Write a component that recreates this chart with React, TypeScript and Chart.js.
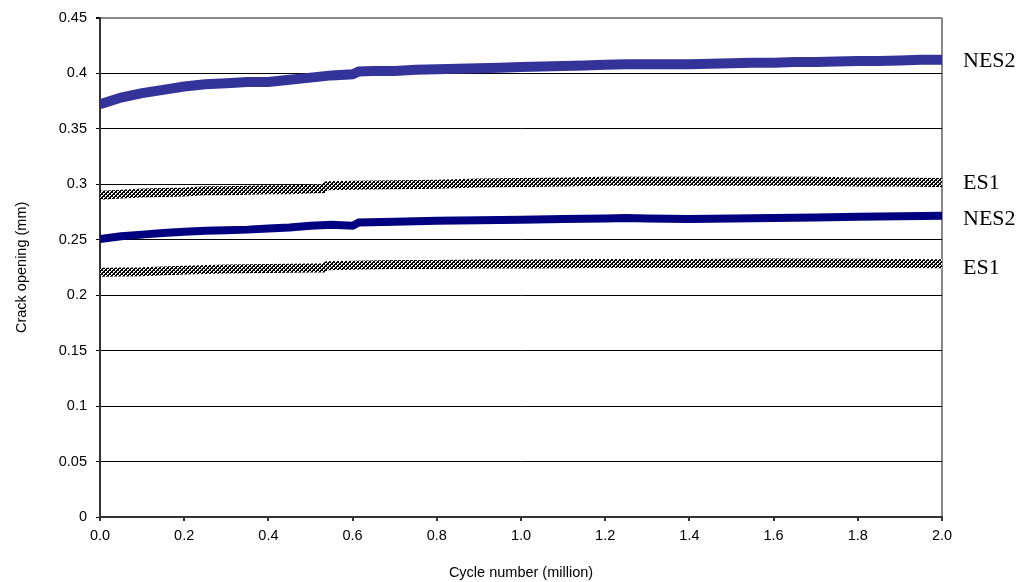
import React, { useEffect, useRef } from "react";
import { Chart, registerables } from "chart.js";
Chart.register(...registerables);

// ---- data ----
const seriesLabels = ["NES2", "ES1", "NES2", "ES1"];

const nes2UpperCycles = [0, 0.05, 0.1, 0.15, 0.2, 0.25, 0.3, 0.35, 0.4, 0.45, 0.5, 0.55, 0.6, 0.615, 0.65, 0.7, 0.75, 0.8, 0.85, 0.9, 0.95, 1.0, 1.05, 1.1, 1.15, 1.2, 1.25, 1.3, 1.35, 1.4, 1.45, 1.5, 1.55, 1.6, 1.65, 1.7, 1.75, 1.8, 1.85, 1.9, 1.95, 2.0];
const nes2UpperOpening = [0.372, 0.378, 0.382, 0.385, 0.388, 0.390, 0.391, 0.392, 0.392, 0.394, 0.396, 0.398, 0.399, 0.4015, 0.402, 0.402, 0.403, 0.4035, 0.404, 0.4045, 0.405, 0.4055, 0.406, 0.4065, 0.407, 0.4075, 0.408, 0.408, 0.408, 0.408, 0.4085, 0.409, 0.4095, 0.4095, 0.410, 0.410, 0.4105, 0.411, 0.411, 0.4115, 0.412, 0.412];

const es1UpperCycles = [0, 0.05, 0.1, 0.15, 0.2, 0.25, 0.3, 0.35, 0.4, 0.45, 0.5, 0.53, 0.54, 0.6, 0.7, 0.8, 0.9, 1.0, 1.1, 1.2, 1.3, 1.4, 1.5, 1.6, 1.7, 1.8, 1.9, 2.0];
const es1UpperOpening = [0.290, 0.291, 0.292, 0.2925, 0.293, 0.294, 0.294, 0.2945, 0.295, 0.295, 0.2955, 0.296, 0.2985, 0.299, 0.2995, 0.300, 0.301, 0.3015, 0.302, 0.3025, 0.3025, 0.3025, 0.3025, 0.3025, 0.3025, 0.302, 0.302, 0.3015];

const nes2LowerCycles = [0, 0.05, 0.1, 0.15, 0.2, 0.25, 0.3, 0.35, 0.4, 0.45, 0.5, 0.55, 0.6, 0.615, 0.7, 0.8, 0.9, 1.0, 1.1, 1.2, 1.25, 1.3, 1.4, 1.5, 1.6, 1.7, 1.8, 1.9, 2.0];
const nes2LowerOpening = [0.2505, 0.253, 0.2545, 0.256, 0.257, 0.258, 0.2585, 0.259, 0.260, 0.261, 0.2625, 0.2635, 0.2625, 0.2655, 0.266, 0.267, 0.2675, 0.268, 0.2685, 0.269, 0.2695, 0.269, 0.2685, 0.269, 0.2695, 0.270, 0.2705, 0.271, 0.2715];

const es1LowerCycles = [0, 0.1, 0.2, 0.3, 0.4, 0.5, 0.53, 0.54, 0.6, 0.7, 0.8, 0.9, 1.0, 1.2, 1.4, 1.6, 1.8, 2.0];
const es1LowerOpening = [0.2205, 0.221, 0.2225, 0.2235, 0.224, 0.2245, 0.2245, 0.2265, 0.227, 0.2275, 0.2275, 0.228, 0.228, 0.2285, 0.2285, 0.229, 0.2288, 0.2282];

const xTickStep = 0.2;
const yTickStep = 0.05;

const xTitle = "Cycle number (million)";
const yTitle = "Crack opening (mm)";

// ---- styles ----
const labelOffsets = [1, 1, 3, 4.5];
const sansFont = "'Liberation Sans', Arial, sans-serif";
const serifFont = "'Liberation Serif', 'Times New Roman', serif";

function zip(xs: number[], ys: number[]) {
  return xs.map((x, i) => ({ x, y: ys[i] }));
}

function makeCrossPattern(ctx: CanvasRenderingContext2D) {
  const tile = document.createElement("canvas");
  tile.width = 4;
  tile.height = 4;
  const t = tile.getContext("2d")!;
  t.fillStyle = "#ffffff";
  t.fillRect(0, 0, 4, 4);
  t.fillStyle = "#000000";
  const px = [[0, 0], [1, 1], [2, 2], [3, 3], [3, 0], [2, 1], [1, 2], [0, 3], [2, 0], [0, 2]];
  px.forEach(([a, b]) => t.fillRect(a, b, 1, 1));
  return ctx.createPattern(tile, "repeat")!;
}

const textPlugin = {
  id: "customText",
  afterDraw(chart: any) {
    const { ctx, chartArea } = chart;
    const yScale = chart.scales.y;
    ctx.save();
    ctx.fillStyle = "#000";
    ctx.font = `14.5px ${sansFont}`;
    ctx.textAlign = "center";
    ctx.textBaseline = "middle";
    ctx.fillText(xTitle, (chartArea.left + chartArea.right) / 2, 573);
    ctx.save();
    ctx.translate(22, (chartArea.top + chartArea.bottom) / 2);
    ctx.rotate(-Math.PI / 2);
    ctx.fillText(yTitle, 0, 0);
    ctx.restore();
    ctx.font = `22px ${serifFont}`;
    ctx.textAlign = "left";
    chart.data.datasets.forEach((ds: any, i: number) => {
      const last = ds.data[ds.data.length - 1];
      const y = yScale.getPixelForValue(last.y) + labelOffsets[i];
      ctx.fillText(seriesLabels[i], chartArea.right + 21, y);
    });
    ctx.restore();
  },
};

export default function App() {
  const canvasRef = useRef<HTMLCanvasElement | null>(null);

  useEffect(() => {
    const canvas = canvasRef.current!;
    const ctx = canvas.getContext("2d")!;
    const crossPattern = makeCrossPattern(ctx);

    const chart = new Chart(ctx, {
      type: "scatter",
      data: {
        datasets: [
          {
            label: seriesLabels[0],
            data: zip(nes2UpperCycles, nes2UpperOpening),
            showLine: true,
            borderColor: "#333399",
            borderWidth: 10,
            pointRadius: 0,
            tension: 0,
          },
          {
            label: seriesLabels[1],
            data: zip(es1UpperCycles, es1UpperOpening),
            showLine: true,
            borderColor: crossPattern as any,
            borderWidth: 9,
            pointRadius: 0,
            tension: 0,
          },
          {
            label: seriesLabels[2],
            data: zip(nes2LowerCycles, nes2LowerOpening),
            showLine: true,
            borderColor: "#000080",
            borderWidth: 8,
            pointRadius: 0,
            tension: 0,
          },
          {
            label: seriesLabels[3],
            data: zip(es1LowerCycles, es1LowerOpening),
            showLine: true,
            borderColor: crossPattern as any,
            borderWidth: 9,
            pointRadius: 0,
            tension: 0,
          },
        ],
      },
      options: {
        responsive: false,
        animation: false,
        layout: { padding: { left: 0, top: 16, right: 91, bottom: 0 } },
        plugins: {
          legend: { display: false },
          tooltip: { enabled: false },
        },
        scales: {
          x: {
            type: "linear",
            min: 0,
            max: 2,
            afterFit: (scale: any) => {
              scale.height = 65;
            },
            ticks: {
              stepSize: xTickStep,
              color: "#000",
              font: { family: sansFont, size: 14.5 },
              padding: 6,
              maxRotation: 0,
              callback: (v: any) => Number(v).toFixed(1),
            },
            grid: {
              color: (c: any) => (c.tick && Math.abs(c.tick.value - 2) < 1e-9 ? "#888888" : "rgba(0,0,0,0)"),
              lineWidth: 2,
              tickColor: "#333333",
              tickLength: 4,
              drawTicks: true,
            },
            border: { display: true, color: "#333333", width: 2 },
          },
          y: {
            type: "linear",
            min: 0,
            max: 0.45,
            afterFit: (scale: any) => {
              scale.width = 100;
            },
            ticks: {
              stepSize: yTickStep,
              color: "#000",
              font: { family: sansFont, size: 14.5 },
              padding: 9,
              callback: (v: any) => (Math.abs(v) < 1e-9 ? "0" : String(+Number(v).toFixed(2))),
            },
            grid: {
              color: (c: any) => (c.tick && Math.abs(c.tick.value - 0.45) < 1e-9 ? "#888888" : "#000000"),
              lineWidth: (c: any) => (c.tick && Math.abs(c.tick.value - 0.45) < 1e-9 ? 2 : 1),
              tickColor: "#000000",
              tickLength: 4,
            },
            border: { display: true, color: "#333333", width: 2 },
          },
        },
      },
      plugins: [textPlugin],
    });

    return () => chart.destroy();
  }, []);

  return (
    <div style={{ position: "absolute", left: 0, top: 0, width: 1033, height: 582, background: "#fff" }}>
      <canvas ref={canvasRef} width={1033} height={582} style={{ display: "block" }} />
    </div>
  );
}
